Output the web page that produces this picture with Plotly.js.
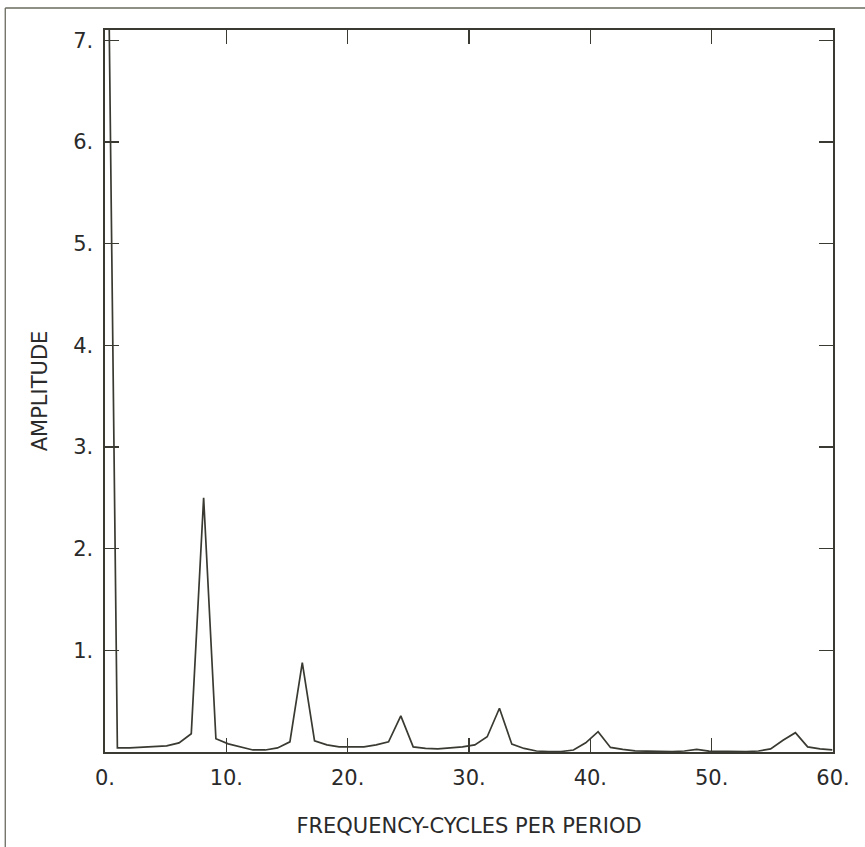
<!DOCTYPE html>
<html>
<head>
<meta charset="utf-8">
<script src="https://cdn.plot.ly/plotly-3.0.1.min.js"></script>
<style>
  html, body { margin: 0; padding: 0; background: #ffffff; }
  #chart { width: 865px; height: 847px; }
</style>
</head>
<body>
<div id="chart"></div>
<script>
// Frequency (cycles per period) of each spectral line
const frequency = [
  0.00, 1.02, 2.03, 3.05, 4.06, 5.08, 6.10, 7.11, 8.13, 9.14,
  10.16, 11.18, 12.19, 13.21, 14.22, 15.24, 16.26, 17.27, 18.29, 19.30,
  20.32, 21.34, 22.35, 23.37, 24.38, 25.40, 26.42, 27.43, 28.45, 29.46,
  30.48, 31.50, 32.51, 33.53, 34.54, 35.56, 36.58, 37.59, 38.61, 39.62,
  40.64, 41.66, 42.67, 43.69, 44.70, 45.72, 46.74, 47.75, 48.77, 49.78,
  50.80, 51.82, 52.83, 53.85, 54.86, 55.88, 56.90, 57.91, 58.93, 59.94
];
// Amplitude (first value runs off the top of the axis)
const amplitude = [
  10.8, 0.04, 0.04, 0.045, 0.05, 0.06, 0.09, 0.18, 2.50, 0.13,
  0.08, 0.05, 0.02, 0.02, 0.04, 0.10, 0.88, 0.11, 0.07, 0.05,
  0.05, 0.05, 0.07, 0.10, 0.355, 0.05, 0.035, 0.03, 0.04, 0.05,
  0.07, 0.15, 0.43, 0.077, 0.035, 0.01, 0.005, 0.005, 0.02, 0.09,
  0.20, 0.045, 0.025, 0.012, 0.008, 0.005, 0.005, 0.01, 0.025, 0.008,
  0.005, 0.003, 0.005, 0.01, 0.03, 0.115, 0.19, 0.05, 0.03, 0.02
];
const xTickVals = [0, 10, 20, 30, 40, 50, 60];
const xTickText = ["0.", "10.", "20.", "30.", "40.", "50.", "60."];
const yTickVals = [1, 2, 3, 4, 5, 6, 7];
const yTickText = ["1.", "2.", "3.", "4.", "5.", "6.", "7."];

const ink = "#3a3a32";
const textInk = "#2a2a2a";
const fontFamily = "DejaVu Sans, sans-serif";

const trace = {
  x: frequency,
  y: amplitude,
  type: "scatter",
  mode: "lines",
  line: { color: ink, width: 1.7 },
  hoverinfo: "x+y"
};

const layout = {
  width: 865,
  height: 847,
  margin: { l: 105, r: 32, t: 30, b: 95 },
  paper_bgcolor: "#ffffff",
  plot_bgcolor: "#ffffff",
  showlegend: false,
  font: { family: fontFamily, color: textInk, size: 21 },
  xaxis: {
    range: [0, 60],
    tickvals: xTickVals,
    ticktext: xTickText,
    ticks: "inside",
    ticklen: 14,
    tickwidth: 1.3,
    tickcolor: ink,
    showline: true,
    linecolor: ink,
    linewidth: 1.6,
    mirror: "ticks",
    showgrid: false,
    zeroline: false,
    ticklabelstandoff: 6,
    tickfont: { family: fontFamily, size: 21, color: textInk },
    title: {
      text: "FREQUENCY-CYCLES PER PERIOD",
      font: { family: fontFamily, size: 21, color: textInk },
      standoff: 29
    }
  },
  yaxis: {
    range: [0, 7.1],
    tickvals: yTickVals,
    ticktext: yTickText,
    ticks: "inside",
    ticklen: 14,
    tickwidth: 1.3,
    tickcolor: ink,
    showline: true,
    linecolor: ink,
    linewidth: 1.6,
    mirror: "ticks",
    showgrid: false,
    zeroline: false,
    ticklabelstandoff: 6,
    tickfont: { family: fontFamily, size: 21, color: textInk },
    title: {
      text: "AMPLITUDE",
      font: { family: fontFamily, size: 21, color: textInk },
      standoff: 20
    }
  },
  shapes: [
    { type: "line", xref: "paper", yref: "paper",
      x0: -0.137, x1: -0.137, y0: 1.0305, y1: -0.135,
      line: { color: "#6a6a60", width: 1.3 } },
    { type: "line", xref: "paper", yref: "paper",
      x0: -0.137, x1: 1.05, y0: 1.0305, y1: 1.0305,
      line: { color: "#6a6a60", width: 1.3 } }
  ]
};

Plotly.newPlot("chart", [trace], layout, { displayModeBar: false, staticPlot: true });
</script>
</body>
</html>
